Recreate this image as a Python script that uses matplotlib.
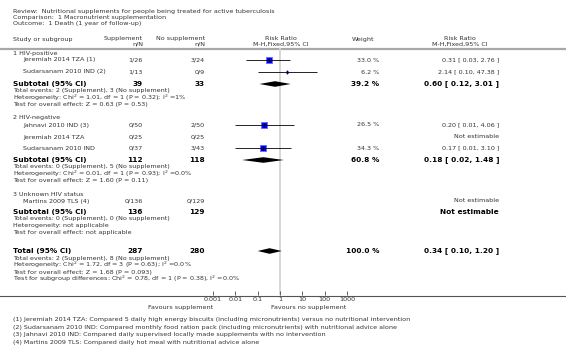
import numpy as np
import matplotlib
matplotlib.use('Agg')
import matplotlib.pyplot as plt

W, H = 566, 350

# study level data
studies = ['Jeremiah 2014 TZA (1)', 'Sudarsanam 2010 IND (2)', 'Jahnavi 2010 IND (3)',
           'Jeremiah 2014 TZA', 'Sudarsanam 2010 IND', 'Martins 2009 TLS (4)']
supp = ['1/26', '1/13', '0/50', '0/25', '0/37', '0/136']
nosupp = ['3/24', '0/9', '2/50', '0/25', '3/43', '0/129']
rr = [0.31, 2.14, 0.20, np.nan, 0.17, np.nan]
rr_lo = [0.03, 0.10, 0.01, np.nan, 0.01, np.nan]
rr_hi = [2.76, 47.38, 4.06, np.nan, 3.10, np.nan]
weights = [33.0, 6.2, 26.5, np.nan, 34.3, np.nan]

# subgroup level data
groups = ['1 HIV-positive', '2 HIV-negative', '3 Unknown HIV status']
sub_supp = [39, 112, 136]
sub_nosupp = [33, 118, 129]
sub_rr = [0.60, 0.18, np.nan]
sub_lo = [0.12, 0.02, np.nan]
sub_hi = [3.01, 1.48, np.nan]
sub_w = [39.2, 60.8, np.nan]
sub_notes = [
    ['Total events: 2 (Supplement), 3 (No supplement)',
     'Heterogeneity: Chi$^2$ = 1.01, df = 1 (P = 0.32); I$^2$ =1%',
     'Test for overall effect: Z = 0.63 (P = 0.53)'],
    ['Total events: 0 (Supplement), 5 (No supplement)',
     'Heterogeneity: Chi$^2$ = 0.01, df = 1 (P = 0.93); I$^2$ =0.0%',
     'Test for overall effect: Z = 1.60 (P = 0.11)'],
    ['Total events: 0 (Supplement), 0 (No supplement)',
     'Heterogeneity: not applicable',
     'Test for overall effect: not applicable'],
]

# overall
tot_supp, tot_nosupp = 287, 280
tot_rr, tot_lo, tot_hi, tot_w = 0.34, 0.10, 1.20, 100.0
tot_notes = ['Total events: 2 (Supplement), 8 (No supplement)',
             'Heterogeneity: Chi$^2$ = 1.72, df = 3 (P = 0.63); I$^2$ =0.0%',
             'Test for overall effect: Z = 1.68 (P = 0.093)',
             'Test for subgroup differences: Chi$^2$ = 0.78, df = 1 (P = 0.38), I$^2$ =0.0%']

ticks = [0.001, 0.01, 0.1, 1, 10, 100, 1000]
tick_labels = ['0.001', '0.01', '0.1', '1', '10', '100', '1000']

footnotes = [
    '(1) Jeremiah 2014 TZA: Compared 5 daily high energy biscuits (including micronutrients) versus no nutritional intervention',
    '(2) Sudarsanam 2010 IND: Compared monthly food ration pack (including micronutrients) with nutritional advice alone',
    '(3) Jahnavi 2010 IND: Compared daily supervised locally made supplements with no intervention',
    '(4) Martins 2009 TLS: Compared daily hot meal with nutritional advice alone',
]

# layout (pixel rows)
group_y = [54, 118, 194]
study_y = [60, 72, 125, 137, 148, 201]
sub_y = [84, 160, 212]
tot_y = 251
x_name, x_study = 13, 23
x_sup, x_nos = 143, 205
x_wt, x_rr = 379, 499
fs, fsb = 4.6, 5.3
grey = '#333333'


def fmt_ci(r, lo, hi):
    return '{:.2f} [ {:.2f}, {:.2f} ]'.format(r, lo, hi)


fig = plt.figure(figsize=(W / 100, H / 100), dpi=100)
ax = fig.add_axes([0, 0, 1, 1])
ax.set_xlim(0, W)
ax.set_ylim(H, 0)
ax.axis('off')

top, bot = 48, 295
fx = fig.add_axes([213 / W, 1 - bot / H, 134 / W, (bot - top) / H])
fx.set_xscale('log')
fx.set_xlim(1e-3, 1e3)
fx.set_ylim(bot, top)
fx.patch.set_alpha(0)
for s in fx.spines.values():
    s.set_visible(False)
fx.set_xticks(ticks)
fx.set_xticklabels(tick_labels)
fx.minorticks_off()
fx.tick_params(axis='x', direction='in', length=3, width=0.6, color='#444444',
               labelsize=fs, labelcolor=grey, pad=1.5)
fx.set_yticks([])
fx.axvline(1, color='#d4d4d4', lw=1.3, zorder=0)

# header
ax.text(x_name, 11, 'Review:  Nutritional supplements for people being treated for active tuberculosis',
        fontsize=fs, color=grey, va='center')
ax.text(x_name, 17, 'Comparison:  1 Macronutrient supplementation', fontsize=fs, color=grey, va='center')
ax.text(x_name, 24, 'Outcome:  1 Death (1 year of follow-up)', fontsize=fs, color=grey, va='center')
hdr = dict(fontsize=fs, color=grey, va='center')
ax.text(x_name, 39, 'Study or subgroup', **hdr)
ax.text(x_sup, 41.5, 'Supplement\nn/N', ha='right', linespacing=1.05, **hdr)
ax.text(x_nos, 41.5, 'No supplement\nn/N', ha='right', linespacing=1.05, **hdr)
ax.text(281, 41.5, 'Risk Ratio\nM-H,Fixed,95% CI', ha='center', linespacing=1.05, **hdr)
ax.text(363, 39, 'Weight', ha='center', **hdr)
ax.text(460, 41.5, 'Risk Ratio\nM-H,Fixed,95% CI', ha='center', linespacing=1.05, **hdr)
ax.plot([0, W], [48.5, 48.5], color='#a8a8a8', lw=1.6)

# subgroups
for g, name in enumerate(groups):
    ax.text(x_name, group_y[g], name, fontsize=fs, color=grey, va='center')
    y = sub_y[g]
    ax.text(x_name, y, 'Subtotal (95% CI)', fontsize=fsb, weight='bold', va='center')
    ax.text(x_sup, y, str(sub_supp[g]), fontsize=fsb, weight='bold', va='center', ha='right')
    ax.text(x_nos, y, str(sub_nosupp[g]), fontsize=fsb, weight='bold', va='center', ha='right')
    if np.isnan(sub_rr[g]):
        ax.text(x_rr, y, 'Not estimable', fontsize=fsb, weight='bold', va='center', ha='right')
    else:
        ax.text(x_wt, y, '{:.1f} %'.format(sub_w[g]), fontsize=fsb, weight='bold', va='center', ha='right')
        ax.text(x_rr, y, fmt_ci(sub_rr[g], sub_lo[g], sub_hi[g]), fontsize=fsb, weight='bold',
                va='center', ha='right')
        fx.fill([sub_lo[g], sub_rr[g], sub_hi[g], sub_rr[g]], [y, y - 2.8, y, y + 2.8],
                color='black', lw=0)
    for k, line in enumerate(sub_notes[g]):
        ax.text(x_name, y + 6.7 + k * 6.8, line, fontsize=fs, color=grey, va='center')

# studies
for i, name in enumerate(studies):
    y = study_y[i]
    ax.text(x_study, y, name, fontsize=fs, color=grey, va='center')
    ax.text(x_sup, y, supp[i], fontsize=fs, color=grey, va='center', ha='right')
    ax.text(x_nos, y, nosupp[i], fontsize=fs, color=grey, va='center', ha='right')
    if np.isnan(rr[i]):
        ax.text(x_rr, y, 'Not estimable', fontsize=fs, color=grey, va='center', ha='right')
        continue
    ax.text(x_wt, y, '{:.1f} %'.format(weights[i]), fontsize=fs, color=grey, va='center', ha='right')
    ax.text(x_rr, y, fmt_ci(rr[i], rr_lo[i], rr_hi[i]), fontsize=fs, color=grey, va='center', ha='right')
    side = 1.07 * np.sqrt(weights[i]) * 0.72
    fx.hlines(y, rr_lo[i], rr_hi[i], color='black', lw=0.6, zorder=3)
    fx.scatter([rr[i]], [y], marker='s', s=side ** 2, color='#0000ff',
               edgecolors='#6a6aff', linewidths=0.6, zorder=2)
    fx.scatter([rr[i]], [y], marker='|', s=6, color='black', linewidths=0.6, zorder=4)

# total
ax.text(x_name, tot_y, 'Total (95% CI)', fontsize=fsb, weight='bold', va='center')
ax.text(x_sup, tot_y, str(tot_supp), fontsize=fsb, weight='bold', va='center', ha='right')
ax.text(x_nos, tot_y, str(tot_nosupp), fontsize=fsb, weight='bold', va='center', ha='right')
ax.text(x_wt, tot_y, '{:.1f} %'.format(tot_w), fontsize=fsb, weight='bold', va='center', ha='right')
ax.text(x_rr, tot_y, fmt_ci(tot_rr, tot_lo, tot_hi), fontsize=fsb, weight='bold', va='center', ha='right')
fx.fill([tot_lo, tot_rr, tot_hi, tot_rr], [tot_y, tot_y - 2.8, tot_y, tot_y + 2.8], color='black', lw=0)
for k, line in enumerate(tot_notes):
    ax.text(x_name, tot_y + 7.5 + k * 6.8, line, fontsize=fs, color=grey, va='center')

# axis line and favours labels
ax.plot([0, W], [295.5, 295.5], color='#555555', lw=0.8)
ax.text(181, 307, 'Favours supplement', fontsize=fs, color=grey, va='center', ha='center')
ax.text(309, 307, 'Favours no supplement', fontsize=fs, color=grey, va='center', ha='center')

for k, line in enumerate(footnotes):
    ax.text(x_name, 319.5 + k * 7.7, line, fontsize=fs, color=grey, va='center')

fig.savefig('out.png', dpi=100)
